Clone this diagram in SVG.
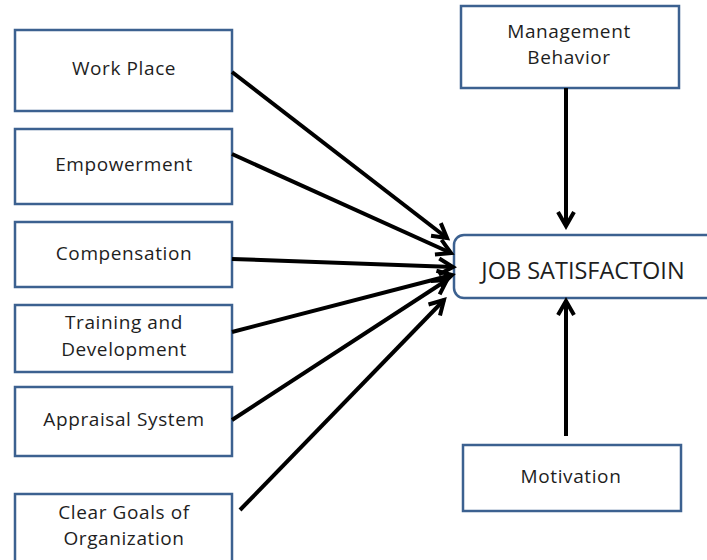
<svg xmlns="http://www.w3.org/2000/svg" width="707" height="560" viewBox="0 0 707 560">
<style>
.box{fill:#fff;stroke:#3c6190;stroke-width:2.5}
.t{font-family:"Open Sans","Liberation Sans",sans-serif;font-size:19px;fill:#1e1e1e;text-anchor:middle;letter-spacing:0.6px}
.c{stroke:#000;stroke-width:4;fill:none;marker-end:url(#ah)}
</style>
<defs>
<marker id="ah" markerUnits="userSpaceOnUse" markerWidth="24" markerHeight="24" refX="20" refY="12" orient="auto">
<path d="M6,4 L20,12 L6,20" fill="none" stroke="#000" stroke-width="4"/>
</marker>
</defs>
<rect width="707" height="560" fill="#fff"/>
<g id="n-workplace"><rect class="box" x="15" y="30" width="217" height="81"/><text class="t" x="124" y="75">Work Place</text></g>
<g id="n-empowerment"><rect class="box" x="15" y="129" width="217" height="75"/><text class="t" x="124" y="171">Empowerment</text></g>
<g id="n-compensation"><rect class="box" x="15" y="222" width="217" height="65"/><text class="t" x="124" y="260">Compensation</text></g>
<g id="n-training"><rect class="box" x="15" y="305" width="217" height="67"/><text class="t" x="124" y="329">Training and</text><text class="t" x="124" y="356">Development</text></g>
<g id="n-appraisal"><rect class="box" x="15" y="387" width="217" height="69"/><text class="t" x="124" y="426">Appraisal System</text></g>
<g id="n-goals"><rect class="box" x="15" y="494" width="217" height="80"/><text class="t" x="124" y="519">Clear Goals of</text><text class="t" x="124" y="545">Organization</text></g>
<g id="n-management"><rect class="box" x="461" y="6" width="218" height="82"/><text class="t" x="569" y="38">Management</text><text class="t" x="569" y="64">Behavior</text></g>
<g id="n-job"><rect class="box" x="454" y="235" width="280" height="63" rx="10"/><text class="t" x="583" y="279" style="font-size:23.5px;letter-spacing:0">JOB SATISFACTOIN</text></g>
<g id="n-motivation"><rect class="box" x="463" y="445" width="218" height="66"/><text class="t" x="571" y="483">Motivation</text></g>
<g id="connectors">
<line class="c" x1="232" y1="72" x2="447" y2="238"/>
<line class="c" x1="232" y1="154" x2="451" y2="253"/>
<line class="c" x1="232" y1="259" x2="453" y2="267"/>
<line class="c" x1="232" y1="332" x2="452" y2="275"/>
<line class="c" x1="232" y1="420" x2="447" y2="280"/>
<line class="c" x1="240" y1="510" x2="444" y2="300"/>
<line class="c" x1="566" y1="88" x2="566" y2="226"/>
<line class="c" x1="566" y1="436" x2="566" y2="301"/>
</g>
</svg>
